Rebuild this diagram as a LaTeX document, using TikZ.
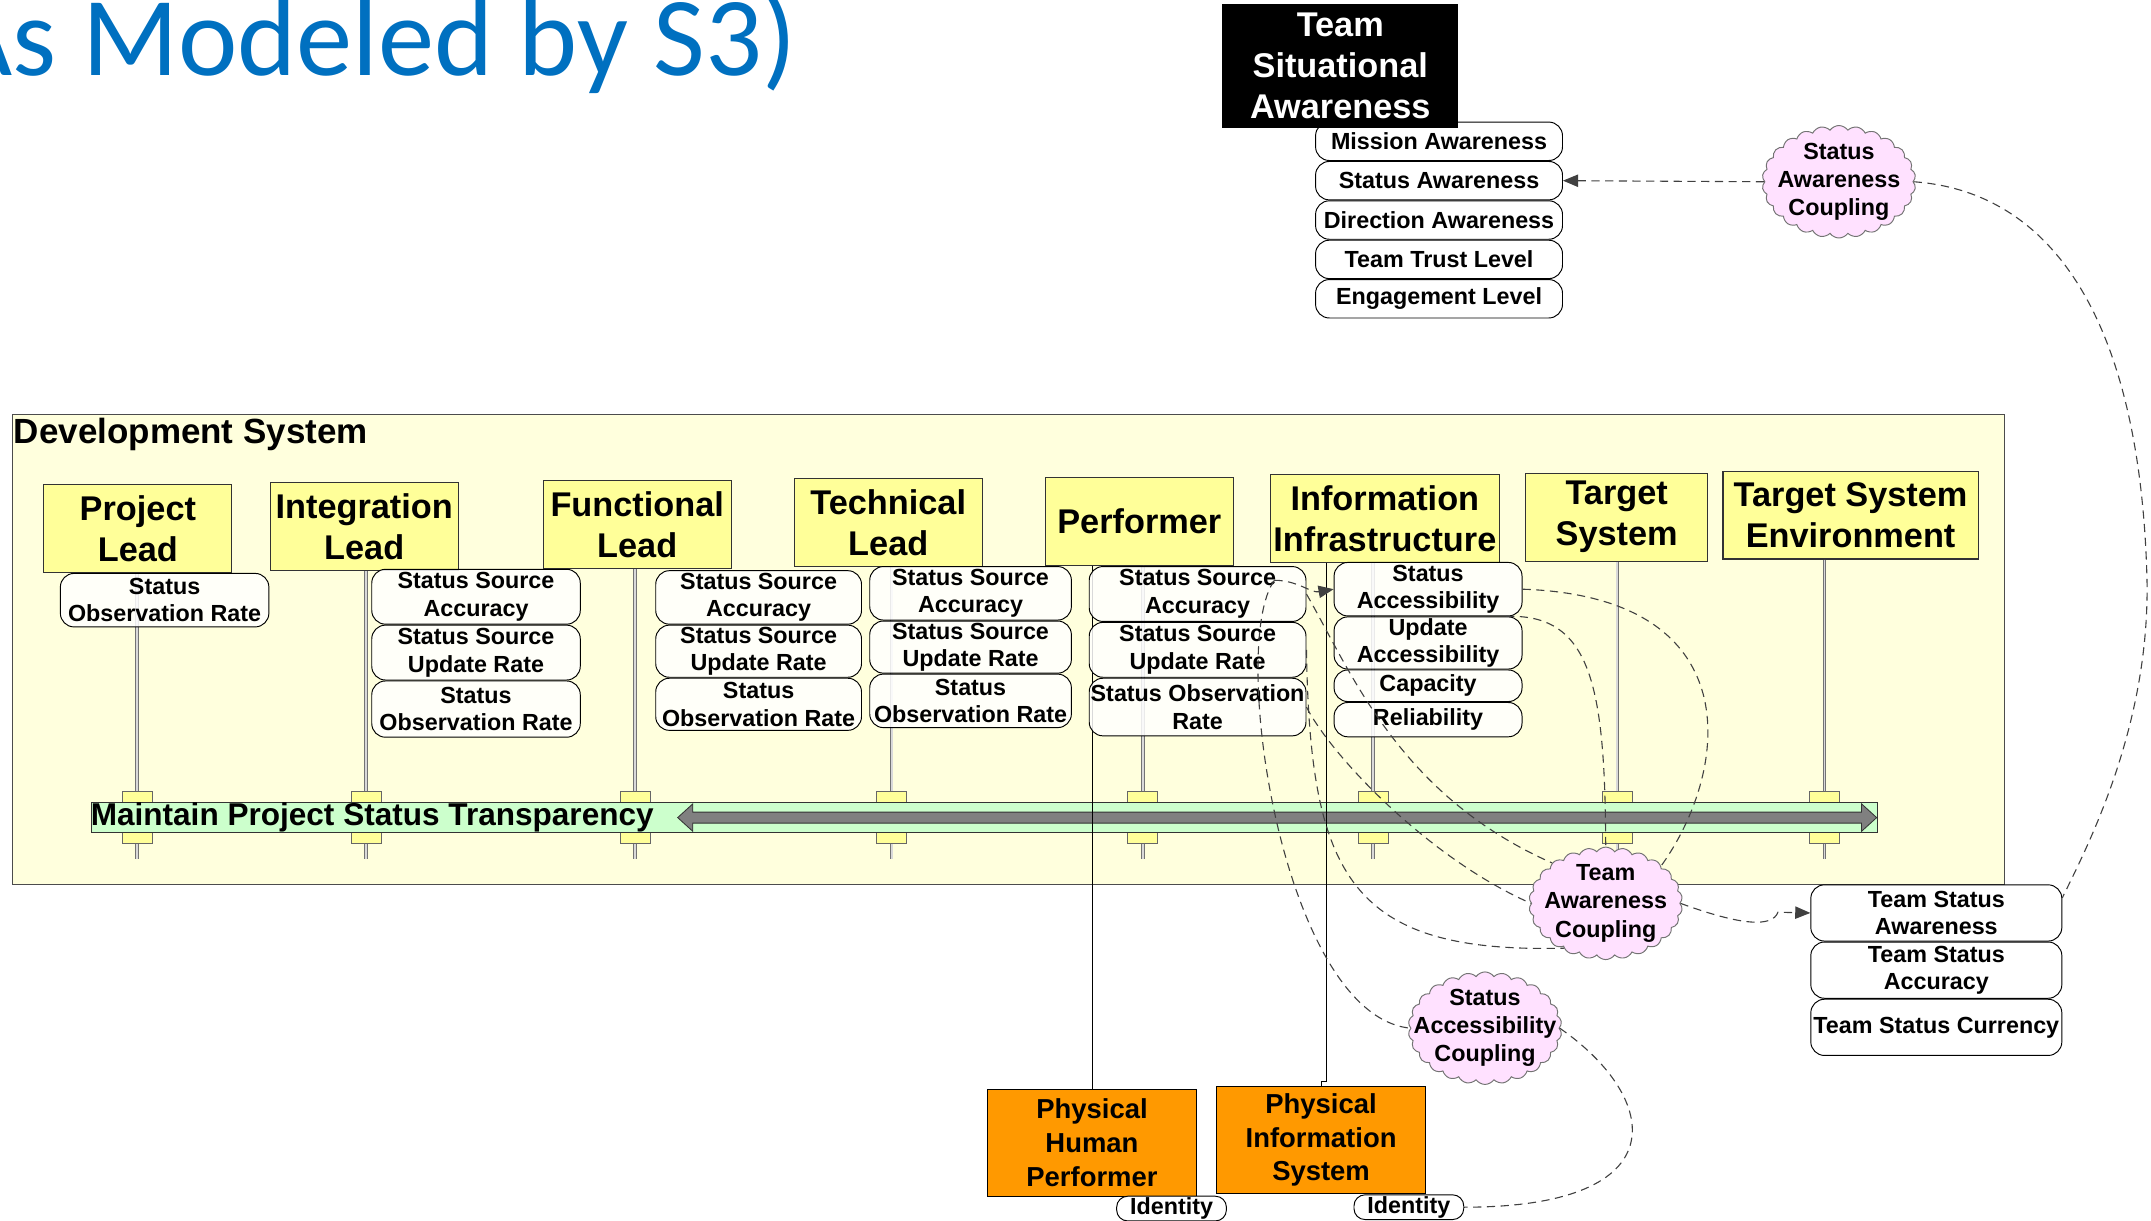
\documentclass[tikz,border=0pt]{standalone}
\usepackage{fontspec}
\setmainfont{Liberation Sans}
\newfontfamily\titlefont{Carlito}
\usetikzlibrary{arrows.meta,positioning,shapes.symbols}

\definecolor{leadyellow}{HTML}{FFFF99}
\definecolor{devfill}{HTML}{FFFFDD}
\definecolor{barfill}{HTML}{CCFFCC}
\definecolor{cloudpink}{HTML}{FFE1FF}
\definecolor{physorange}{HTML}{FF9900}
\definecolor{titleblue}{HTML}{0070C0}

\newcommand\bigfont{\fontsize{25}{30}\selectfont\bfseries}
\newcommand\midfont{\fontsize{23}{27}\selectfont\bfseries}
\newcommand\physfont{\fontsize{20}{24.5}\selectfont\bfseries}
\newcommand\smallfont{\fontsize{17}{20}\selectfont\bfseries}

\begin{document}
\begin{tikzpicture}[x=1pt,y=-1pt,>={Triangle[length=11pt,width=9pt]},
    lead/.style={draw=black!80,fill=leadyellow,line width=0.8pt,inner sep=0pt,
                 minimum width=137pt,minimum height=64pt,align=center,font=\bigfont},
    attr/.style={draw=black,rounded corners=10pt,fill=white,fill opacity=0.85,
                 text opacity=1,line width=0.7pt,inner sep=0pt,minimum width=#1,
                 minimum height=40pt,align=center,font=\smallfont},
    awr/.style={attr=180pt,minimum height=28pt},
    ident/.style={attr=80pt,minimum height=18pt,rounded corners=8pt},
    tsabox/.style={fill=black,text=white,inner sep=0pt,minimum width=172pt,
                   minimum height=90pt,align=center,font=\bigfont},
    devsys/.style={draw=black!70,fill=devfill,line width=0.8pt,inner sep=0pt},
    lifeline/.style={draw=black!55,line width=0.6pt,double=black!15,double distance=1.4pt},
    act/.style={draw=black!60,fill=leadyellow,line width=0.6pt},
    bar/.style={draw=black!80,fill=barfill,line width=0.8pt,inner sep=0pt,minimum height=22pt},
    bigarrow/.style={draw=black!80,fill=black!50,line width=0.6pt},
    phys/.style={draw=black,fill=physorange,line width=0.8pt,inner sep=0pt,
                 minimum width=152pt,minimum height=78pt,align=center,font=\physfont},
    wire/.style={draw=black,line width=0.6pt},
    coupling/.style={cloud,cloud puffs=26,cloud puff arc=110,cloud ignores aspect,
                     draw=black!55,fill=cloudpink,line width=0.7pt,inner sep=0pt,
                     minimum width=112pt,minimum height=82pt},
    ctext/.style={align=center,font=\fontsize{17}{20.5}\selectfont\bfseries,inner sep=0pt},
    conn/.style={draw=black!75,dash pattern=on 6pt off 4pt,line width=0.8pt}]

\useasboundingbox (0,0) rectangle (1568,890);

% title, cut at the left edge
\begin{scope}
  \clip (0,0) rectangle (1568,890);
  \node[anchor=base east,inner sep=0pt,text=titleblue,font=\titlefont\fontsize{82}{92}\selectfont]
    (title) at (581,55) {(As Modeled by S3)};
\end{scope}

% development system
\node[devsys,minimum width=1452pt,minimum height=343pt] (dev) at (735,473.5) {};
\node[anchor=west,inner sep=0pt,font=\fontsize{25.5}{30}\selectfont\bfseries] (devlabel)
  at (10,317) {Development System};

% roles
\node[lead] (pl) at (100.5,385.5) {Project\\Lead};
\node[lead] (il) at (265.5,384) {Integration\\Lead};
\node[lead] (fl) at (464.5,382.5) {Functional\\Lead};
\node[lead] (tl) at (647.5,381) {Technical\\Lead};
\node[lead] (perf) at (830.5,380) {Performer};
\node[lead,minimum width=167pt] (infra) at (1009.5,378) {Information\\Infrastructure};
\node[lead,minimum width=133pt] (ts) at (1178.5,377) {Target\\System};
\node[lead,minimum width=186pt] (tse) at (1349,375.5) {Target System\\Environment};

% lifelines
\foreach \n/\x in {pl/100,il/267,fl/463,tl/650,perf/833,infra/1001,ts/1179,tse/1330}{
  \draw[lifeline] (\n.south -| \x,0) -- (\x,626);
  \draw[act] (\x-11,577) rectangle (\x+11,585);
  \draw[act] (\x-11,607) rectangle (\x+11,615);
}

% activity bar
\node[bar,minimum width=1302pt,anchor=west] (bar) at (66,596) {};
\node[anchor=west,inner sep=0pt,font=\midfont] (bartext) at (bar.west)
  {Maintain Project Status Transparency};
\filldraw[bigarrow] (494,596) -- (505,586) -- (505,592) -- (1357,592) -- (1357,586)
  -- (1368,596) -- (1357,606) -- (1357,600) -- (505,600) -- (505,606) -- cycle;

% physical parts
\node[phys] (php) at (796,833) {Physical\\Human\\Performer};
\node[phys] (pis) at (963,831) {Physical\\Information\\System};
\node[ident] (id1) at (854,881) {Identity};
\node[ident] (id2) at (1027,880) {Identity};
\coordinate (pisbend) at (967,788);
\draw[wire] (php.north |- perf.south) -- (php.north);
\draw[wire] (infra.south -| pisbend) -- (pisbend) -| (pis.north);

% attributes
\node[attr=152pt,minimum height=39pt] (pl1) at (120,437.5) {Status\\Observation Rate};

\node[attr=152pt] (il1) at (347,435) {Status Source\\Accuracy};
\node[attr=152pt,below=0pt of il1] (il2) {Status Source\\Update Rate};
\node[attr=152pt,minimum height=41pt,below=0pt of il2] (il3) {Status\\Observation Rate};

\node[attr=150pt,minimum height=39pt] (fl1) at (553,435.5) {Status Source\\Accuracy};
\node[attr=150pt,minimum height=38pt,below=0pt of fl1] (fl2) {Status Source\\Update Rate};
\node[attr=150pt,minimum height=38pt,below=0pt of fl2] (fl3) {Status\\Observation Rate};

\node[attr=147pt,minimum height=39pt] (tl1) at (707.5,432.5) {Status Source\\Accuracy};
\node[attr=147pt,minimum height=38pt,below=0pt of tl1] (tl2) {Status Source\\Update Rate};
\node[attr=147pt,minimum height=39pt,below=0pt of tl2] (tl3) {Status\\Observation Rate};

\node[attr=158pt] (pf1) at (873,433) {Status Source\\Accuracy};
\node[attr=158pt,below=0pt of pf1] (pf2) {Status Source\\Update Rate};
\node[attr=158pt,minimum height=42pt,below=0pt of pf2] (pf3) {Status Observation\\Rate};

\node[attr=137pt,minimum height=39pt] (ii1) at (1041,429.5) {Status\\Accessibility};
\node[attr=137pt,minimum height=38pt,below=0pt of ii1] (ii2) {Update\\Accessibility};
\node[attr=137pt,minimum height=23pt,below=0pt of ii2] (ii3) {Capacity};
\node[attr=137pt,minimum height=25pt,below=0pt of ii3] (ii4) {Reliability};

% team status
\node[attr=183pt,minimum height=41pt] (tsa) at (1411.5,665.5) {Team Status\\Awareness};
\node[attr=183pt,minimum height=41pt,below=0pt of tsa] (tsacc) {Team Status\\Accuracy};
\node[attr=183pt,minimum height=41pt,below=0pt of tsacc] (tscur) {Team Status Currency};

% team situational awareness
\node[awr] (ma) at (1049,103) {Mission Awareness};
\node[awr,below=0pt of ma] (sa) {Status Awareness};
\node[awr,below=0pt of sa] (da) {Direction Awareness};
\node[awr,below=0pt of da] (ttl) {Team Trust Level};
\node[awr,below=0pt of ttl] (el) {Engagement Level};
\node[tsabox] (tsab) at (977,48) {Team\\Situational\\Awareness};

% couplings
\node[coupling,label={[ctext]center:Status\\Awareness\\Coupling}] (sawc) at (1340.5,132.5) {};
\node[coupling,label={[ctext]center:Team\\Awareness\\Coupling}] (tacoup) at (1170.5,658.5) {};
\node[coupling,label={[ctext]center:Status\\Accessibility\\Coupling}] (sacc) at (1082.5,749.5) {};

% dashed couplings
\coordinate (pport) at (929,423);
\draw[conn,->] (sawc.west) -- (sa.east);
\draw[conn] (sawc.east) .. controls (1500,140) and (1560,240) .. (1565,420)
  .. controls (1568,530) and (1520,620) .. ([yshift=11pt]tsa.east);
\draw[conn,->] (pport) to[out=0,in=190] (ii1.west);
\draw[conn] (pport) .. controls (895,470) and (935,740) .. (sacc.west);
\draw[conn] (pf1.east) .. controls (985,490) and (1020,580) .. (tacoup.143);
\draw[conn] (pf3.east) .. controls (970,550) and (1040,625) .. (tacoup.west);
\draw[conn] (pf2.east) .. controls (955,640) and (985,695) .. (tacoup.227);
\draw[conn] (ii1.east) .. controls (1275,435) and (1262,560) .. (tacoup.34);
\draw[conn] ([xshift=-12pt]ii2.north east) .. controls (1160,447) and (1170,500) .. (tacoup.north);
\draw[conn,->] (tacoup.east) .. controls (1270,675) and (1292,676) .. (1296,665) -- (tsa.west);
\draw[conn] (sacc.east) .. controls (1210,800) and (1225,880) .. (id2.east);
\end{tikzpicture}
\end{document}
